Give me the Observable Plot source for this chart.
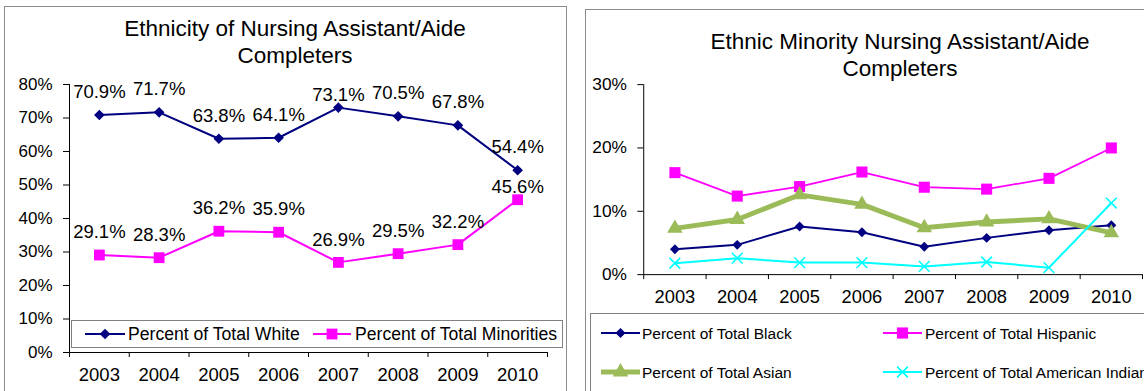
<!DOCTYPE html>
<html><head><meta charset="utf-8">
<script src="https://cdn.jsdelivr.net/npm/d3@7"></script>
<script src="https://cdn.jsdelivr.net/npm/@observablehq/plot@0.6"></script>
<style>
html,body{margin:0;padding:0;background:#fff;overflow:hidden}
#page{position:relative;width:1144px;height:391px;overflow:hidden;font-family:"Liberation Sans",Arial,sans-serif;color:#000;background:#fff}
.abs{position:absolute}
.frame{position:absolute;border:1.5px solid #8c8c8c;box-sizing:border-box}
.title{position:absolute;text-align:center;font-size:22.5px;line-height:27px;white-space:nowrap;transform:translateX(-50%)}
.legbox{position:absolute;border:1px solid #808080;background:#fff;box-sizing:border-box}
.legtext{position:absolute;white-space:nowrap;line-height:1;transform:translateY(-50%)}
svg.overlay{position:absolute;left:0;top:0;pointer-events:none}
</style></head><body>
<div id="page">
  <div class="frame" style="left:4px;top:6px;width:563px;height:420px"></div>
  <div class="frame" style="left:585px;top:9px;width:600px;height:420px"></div>
  <div id="leftChart" class="abs" style="left:0;top:0"></div>
  <div id="rightChart" class="abs" style="left:570px;top:0"></div>
  <div class="title" style="left:295px;top:14.5px">Ethnicity of Nursing Assistant/Aide<br>Completers</div>
  <div class="title" style="left:900px;top:27.5px">Ethnic Minority Nursing Assistant/Aide<br>Completers</div>
  <div id="legends"></div>
</div>
<script>
// ---------- data ----------
const years = [2003, 2004, 2005, 2006, 2007, 2008, 2009, 2010];
// Left chart
const pctWhite      = [0.709, 0.717, 0.638, 0.641, 0.731, 0.705, 0.678, 0.544];
const pctMinorities = [0.291, 0.283, 0.362, 0.359, 0.269, 0.295, 0.322, 0.456];
const leftYTicks = [0, 0.1, 0.2, 0.3, 0.4, 0.5, 0.6, 0.7, 0.8];
// Right chart
const pctBlack    = [0.040, 0.047, 0.076, 0.067, 0.044, 0.058, 0.070, 0.078];
const pctHispanic = [0.161, 0.124, 0.139, 0.162, 0.138, 0.135, 0.152, 0.200];
const pctAsian    = [0.073, 0.087, 0.126, 0.111, 0.074, 0.083, 0.088, 0.066];
const pctAmIndian = [0.018, 0.026, 0.019, 0.019, 0.013, 0.020, 0.011, 0.113];
const rightYTicks = [0, 0.1, 0.2, 0.3];

// ---------- series styles ----------
const leftSeries = [
  {name: "Percent of Total White", values: pctWhite, color: "#000080", symbol: "diamond2", r: 4.8, sw: 2, fill: true},
  {name: "Percent of Total Minorities", values: pctMinorities, color: "#FF00FF", symbol: "square", r: 6.1, sw: 2, fill: true}
];
const rightSeries = [
  {name: "Percent of Total Black", values: pctBlack, color: "#000080", symbol: "diamond2", r: 4.5, sw: 2, fill: true},
  {name: "Percent of Total Hispanic", values: pctHispanic, color: "#FF00FF", symbol: "square", r: 6.3, sw: 1.8, fill: true},
  {name: "Percent of Total Asian", values: pctAsian, color: "#9BBB59", symbol: "triangle", r: 5.8, sw: 5, fill: true},
  {name: "Percent of Total American Indian", values: pctAmIndian, color: "#00FFFF", symbol: "times", r: 5.0, sw: 2, fill: false}
];

const rows = s => years.map((y, i) => ({year: y, value: s.values[i], series: s.name}));
const xBounds = years.map(y => y - 0.5).concat([years[years.length - 1] + 0.5]);
const fmtPct0 = d3.format(".0%");
const fmtPct1 = d3.format(".1%");
const fontFam = '"Liberation Sans", Arial, sans-serif';

function seriesMarks(s) {
  const data = rows(s);
  const marks = [Plot.line(data, {x: "year", y: "value", stroke: s.color, strokeWidth: s.sw})];
  if (s.fill) marks.push(Plot.dot(data, {x: "year", y: "value", symbol: s.symbol, r: s.r, fill: s.color, stroke: "none"}));
  else marks.push(Plot.dot(data, {x: "year", y: "value", symbol: s.symbol, r: s.r, stroke: s.color, strokeWidth: 1.6, fill: "none"}));
  return marks;
}

// ---------- left chart ----------
const leftLabelRows = leftSeries.flatMap(rows);
// labels that Excel pulled closer to their marker (clamped at plot top / collision)
const closeLabel = d => (d.series === leftSeries[0].name && d.year === 2007) || (d.series === leftSeries[1].name && d.year === 2010);

const leftPlot = Plot.plot({
  width: 570, height: 391,
  marginLeft: 69, marginRight: 23, marginTop: 84, marginBottom: 39,
  style: {fontFamily: fontFam, fontSize: "18px", background: "transparent", color: "#000", overflow: "visible"},
  x: {type: "linear", domain: [xBounds[0], xBounds[xBounds.length - 1]]},
  y: {domain: [0, 0.8]},
  marks: [
    Plot.axisY(leftYTicks, {tickSize: 6, tickPadding: 11, tickFormat: fmtPct0, fontSize: 17, label: null}),
    Plot.axisX(years, {tickSize: 0, tickPadding: 15, tickFormat: d => String(d), fontSize: 18.5, label: null}),
    Plot.axisX(xBounds, {tickSize: 5, tickFormat: () => "", label: null}),
    Plot.ruleX([xBounds[0]], {stroke: "#000"}),
    Plot.ruleY([0], {stroke: "#000"}),
    ...leftSeries.flatMap(seriesMarks),
    Plot.text(leftLabelRows.filter(d => !closeLabel(d)), {x: "year", y: "value", text: d => fmtPct1(d.value), dy: -22.8, fontSize: 18.5}),
    Plot.text(leftLabelRows.filter(closeLabel), {x: "year", y: "value", text: d => fmtPct1(d.value), dy: -12.8, fontSize: 18.5})
  ]
});
document.getElementById("leftChart").appendChild(leftPlot);

// ---------- right chart ----------
const rightPlot = Plot.plot({
  width: 580, height: 391,
  marginLeft: 74, marginRight: 2, marginTop: 85, marginBottom: 114,
  style: {fontFamily: fontFam, fontSize: "18px", background: "transparent", color: "#000", overflow: "visible"},
  x: {type: "linear", domain: [xBounds[0], xBounds[xBounds.length - 1]]},
  y: {domain: [0, 0.3]},
  marks: [
    Plot.axisY(rightYTicks, {tickSize: 6, tickPadding: 11, tickFormat: fmtPct0, fontSize: 17.5, label: null}),
    Plot.axisX(years, {tickSize: 0, tickPadding: 16, tickFormat: d => String(d), fontSize: 18.5, label: null}),
    Plot.axisX(xBounds, {tickSize: 5, tickFormat: () => "", label: null}),
    Plot.ruleX([xBounds[0]], {stroke: "#000"}),
    Plot.ruleY([0], {stroke: "#000"}),
    ...rightSeries.flatMap(seriesMarks)
  ]
});
document.getElementById("rightChart").appendChild(rightPlot);

// ---------- legends ----------
const legends = document.getElementById("legends");
function addBox(left, top, width, height) {
  const b = document.createElement("div");
  b.className = "legbox";
  Object.assign(b.style, {left: left + "px", top: top + "px", width: width + "px", height: height + "px"});
  legends.appendChild(b);
}
const overlay = d3.create("svg").attr("class", "overlay").attr("width", 1144).attr("height", 391);
const symbolTypes = {diamond2: d3.symbolDiamond2, square: d3.symbolSquare, triangle: d3.symbolTriangle, times: d3.symbolTimes};
function addItem(s, x1, x2, y, textX, fontSize) {
  overlay.append("line").attr("x1", x1).attr("x2", x2).attr("y1", y).attr("y2", y)
    .attr("stroke", s.color).attr("stroke-width", s.sw);
  const path = d3.symbol(symbolTypes[s.symbol], Math.PI * s.r * s.r)();
  const p = overlay.append("path").attr("d", path).attr("transform", `translate(${(x1 + x2) / 2},${y})`);
  if (s.fill) p.attr("fill", s.color);
  else p.attr("fill", "none").attr("stroke", s.color).attr("stroke-width", 1.6);
  const t = document.createElement("div");
  t.className = "legtext";
  t.textContent = s.name;
  Object.assign(t.style, {left: textX + "px", top: (y + 1) + "px", fontSize: fontSize + "px"});
  legends.appendChild(t);
}
addBox(71, 320, 492, 28);
addBox(590, 313, 600, 120);
legends.appendChild(overlay.node());
addItem(leftSeries[0], 85, 125, 334, 128, 17.6);
addItem(leftSeries[1], 313, 351, 334, 355, 17.6);
addItem(rightSeries[0], 601, 640, 333, 642, 15.5);
addItem(rightSeries[1], 883, 922, 333, 925, 15.5);
addItem(rightSeries[2], 601, 640, 372, 642, 15.5);
addItem(rightSeries[3], 883, 922, 372, 925, 15.5);
</script>
</body></html>
